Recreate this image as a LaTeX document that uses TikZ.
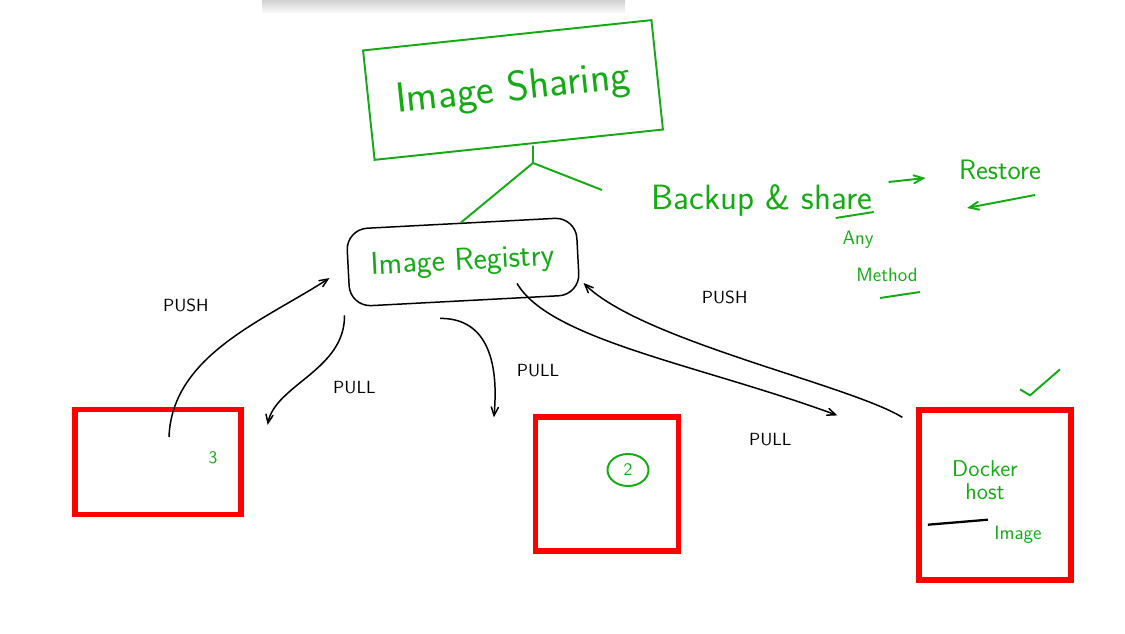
\documentclass[tikz,border=0pt]{standalone}
\usepackage{tikz}
\usetikzlibrary{arrows,shapes.geometric}
\definecolor{ink}{RGB}{20,170,20}
\definecolor{marker}{RGB}{255,0,0}
\newcommand{\txtsize}[1]{\fontsize{#1}{#1}\selectfont}

\begin{document}
\begin{tikzpicture}[x=0.02cm, y=-0.02cm, >=angle 45, line width=0.85pt,
    font=\sffamily,
    pen/.style={draw=ink, text=ink, line width=1.1pt},
    hostbox/.style={draw=marker, line width=3pt}]
    \useasboundingbox (0,0) rectangle (1125,634);
    \fill [white] (0,0) rectangle (1125,634);
    \shade [top color=black!18, bottom color=white] (262,0) rectangle (625,14);

    \node (share) [pen, rotate=6, minimum width=5.8cm, minimum height=2.2cm,
      font=\sffamily\txtsize{24}] at (513,90) {Image Sharing};
    \node (registry) [draw, rounded corners=12pt, rotate=3, minimum width=4.6cm,
      minimum height=1.55cm, text=ink, font=\sffamily\txtsize{18}] at (463,262) {Image Registry};
    \coordinate (fork) at (533,163);
    \coordinate (twig) at (602,190);
    \draw [pen] (fork |- share.south) -- (fork) -- (registry.north);
    \draw [pen] (fork) -- (twig);

    \node (h3) [hostbox, minimum width=3.32cm, minimum height=2.1cm] at (158,462) {};
    \node (h2) [hostbox, minimum width=2.86cm, minimum height=2.68cm] at (607,484) {};
    \node (dock) [hostbox, minimum width=3.04cm, minimum height=3.4cm] at (995,495) {};
    \node (n3) [text=ink, font=\sffamily\normalsize] at (213,458) {3};
    \node (n2) [pen, ellipse, minimum width=0.82cm, minimum height=0.64cm,
      inner sep=1pt, font=\sffamily\normalsize] at (628,470) {2};
    \node (docker) [text=ink, align=center, font=\sffamily\txtsize{13}] at (985,480) {Docker\\host};
    \node (img) [text=ink, font=\sffamily\txtsize{11}] at (1018,535) {Image};
    \draw [line width=1.3pt] (img.north west) -- ++(-60,5);
    \draw [pen] (dock.north) ++(25,-18) -- ++(10,6) -- ++(30,-26);

    \coordinate (p3) at (169,437);
    \draw [->] (p3) .. controls (172,355) and (265,320) .. ([shift={(-18,10)}]registry.west)
      node [pos=.45, above left=14pt, xshift=13pt, yshift=4pt, font=\sffamily\txtsize{10}] {PUSH};
    \draw [->] ([shift={(-5,8)}]registry.south west) .. controls (345,370) and (275,385)
      .. ([shift={(24,18)}]h3.north east)
      node [pos=.5, right=10pt, yshift=-7pt, font=\sffamily\txtsize{10}] {PULL};
    \draw [->] ([shift={(-25,17)}]registry.south) .. controls (480,318) and (500,350)
      .. ([shift={(-39,3)}]h2.north west)
      node [pos=.6, right=12pt, yshift=-10pt, font=\sffamily\txtsize{10}] {PULL};
    \draw [->] ([shift={(52,-18)}]registry.south) .. controls (550,340) and (700,365)
      .. ([shift={(-79,8)}]dock.north west)
      node [pos=.8, below=22pt, xshift=9pt, font=\sffamily\txtsize{10}] {PULL};
    \draw [->] ([shift={(-14,10)}]dock.north west) .. controls (850,385) and (640,340)
      .. ([shift={(5,27)}]registry.east)
      node [pos=.55, above=24pt, font=\sffamily\txtsize{10}] {PUSH};

    \node (backup) [text=ink, font=\sffamily\txtsize{20}] at (762,200) {Backup \& share};
    \node (restore) [text=ink, font=\sffamily\txtsize{16}] at (1000,170) {Restore};
    \draw [pen, ->] ([shift={(-64,12)}]restore.west) -- ([shift={(-27,8)}]restore.west);
    \draw [pen] ([shift={(-43,18)}]backup.east) -- ++(38,-6);
    \draw [pen, ->] ([shift={(35,25)}]restore.center) -- ([shift={(-33,38)}]restore.center);
    \node (any) [text=ink, font=\sffamily\txtsize{11}] at (858,240) {Any};
    \node (method) [text=ink, font=\sffamily\txtsize{11}] at (887,275) {Method};
    \draw [pen] ([shift={(-7,23)}]method.center) -- ++(40,-6);
\end{tikzpicture}
\end{document}
